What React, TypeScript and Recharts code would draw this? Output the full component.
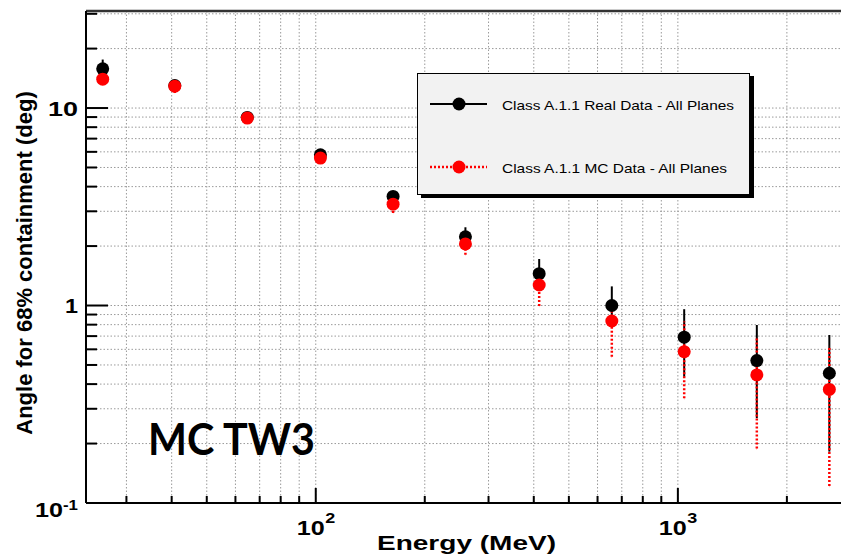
import React from "react";
import {
  CartesianGrid,
  ErrorBar,
  Legend,
  ReferenceLine,
  Scatter,
  ScatterChart,
  XAxis,
  YAxis,
} from "recharts";

// energy bin centres (MeV)
const energies = [25.8, 40.8, 64.7, 103, 163.5, 259, 414, 657, 1041, 1652, 2620];

// Class A.1.1 Real Data - All Planes
const realAngle = [15.8, 13.0, 8.96, 5.8, 3.57, 2.23, 1.45, 1.0, 0.691, 0.526, 0.454];
const realUpper = [17.6, 13.4, 9.2, 5.95, 3.78, 2.49, 1.72, 1.25, 0.958, 0.797, 0.709];
const realLower = [14.5, 12.6, 8.7, 5.65, 3.38, 2.0, 1.25, 0.8, 0.436, 0.269, 0.182];

// Class A.1.1 MC Data - All Planes
const mcAngle = [14.0, 12.9, 8.9, 5.58, 3.26, 2.05, 1.27, 0.835, 0.584, 0.445, 0.376];
const mcUpper = [14.6, 13.3, 9.1, 5.75, 3.45, 2.25, 1.45, 1.05, 0.829, 0.682, 0.619];
const mcLower = [13.4, 11.9, 8.6, 5.4, 2.94, 1.81, 0.995, 0.551, 0.339, 0.189, 0.122];

const xTicks = [30, 40, 50, 60, 70, 80, 90, 100, 200, 300, 400, 500, 600, 700, 800, 900, 1000, 2000];
const yTicks = [
  0.1, 0.2, 0.3, 0.4, 0.5, 0.6, 0.7, 0.8, 0.9, 1, 2, 3, 4, 5, 6, 7, 8, 9, 10, 20, 30,
];
const xMajor = [100, 1000];
const yMajor = [0.1, 1, 10];

const FONT = '"Liberation Sans", Arial, sans-serif';

const build = (ys: number[], hi: number[], lo: number[]) =>
  energies.map((x, i) => ({ x, y: ys[i], err: [ys[i] - lo[i], hi[i] - ys[i]] }));

const realData = build(realAngle, realUpper, realLower);
const mcData = build(mcAngle, mcUpper, mcLower);

function XTick(props: any) {
  const { x, y, payload } = props;
  const v = payload.value;
  const major = xMajor.includes(v);
  return (
    <g>
      <line x1={x} x2={x} y1={y} y2={y - (major ? 15 : 7)} stroke="#000" strokeWidth={2} />
      {major && (
        <text fontFamily={FONT} fontWeight="bold" fill="#000">
          <tspan x={x - 19} y={y + 32} fontSize={20} textLength={28} lengthAdjust="spacingAndGlyphs">
            10
          </tspan>
          <tspan x={x + 9.5} y={y + 20} fontSize={14} textLength={10} lengthAdjust="spacingAndGlyphs">
            {v === 100 ? "2" : "3"}
          </tspan>
        </text>
      )}
    </g>
  );
}

function YTick(props: any) {
  const { x, y, payload } = props;
  const v = payload.value;
  const major = yMajor.includes(v);
  let label = null;
  if (v === 10) {
    label = (
      <text x={x - 38} y={y + 7.5} fontSize={21} textLength={30} lengthAdjust="spacingAndGlyphs" fontFamily={FONT} fontWeight="bold">
        10
      </text>
    );
  } else if (v === 1) {
    label = (
      <text x={x - 21} y={y + 7.5} fontSize={21} textLength={13} lengthAdjust="spacingAndGlyphs" fontFamily={FONT} fontWeight="bold">
        1
      </text>
    );
  } else if (v === 0.1) {
    label = (
      <text fontFamily={FONT} fontWeight="bold">
        <tspan x={x - 51} y={y + 14} fontSize={21} textLength={28} lengthAdjust="spacingAndGlyphs">
          10
        </tspan>
        <tspan x={x - 23} y={y + 7} fontSize={14} textLength={15} lengthAdjust="spacingAndGlyphs">
          -1
        </tspan>
      </text>
    );
  }
  return (
    <g>
      <line x1={x} x2={x + (major ? 22 : 11)} y1={y} y2={y} stroke="#000" strokeWidth={2} />
      {label}
    </g>
  );
}

function LegendBox() {
  return (
    <div
      style={{
        width: 333,
        height: 122,
        background: "#f2f2f2",
        border: "1.5px solid #000",
        boxShadow: "4px 3px 0 #000",
        boxSizing: "border-box",
      }}
    >
      <svg width={330} height={119} style={{ display: "block" }}>
        <line x1={12} x2={69} y1={30} y2={30} stroke="#000" strokeWidth={2} />
        <circle cx={41} cy={30} r={6.5} fill="#000" />
        <text x={84} y={36} fontSize={13} fontFamily={FONT} textLength={232} lengthAdjust="spacingAndGlyphs">
          Class A.1.1 Real Data - All Planes
        </text>
        <line x1={12} x2={69} y1={93} y2={93} stroke="#ff0000" strokeWidth={2.5} strokeDasharray="2 2" />
        <circle cx={41} cy={93} r={6.5} fill="#ff0000" />
        <text x={84} y={98.5} fontSize={13} fontFamily={FONT} textLength={225} lengthAdjust="spacingAndGlyphs">
          Class A.1.1 MC Data - All Planes
        </text>
      </svg>
    </div>
  );
}

const dot = (color: string) => (p: any) => <circle cx={p.cx} cy={p.cy} r={6.5} fill={color} />;

export default function App() {
  return (
    <div
      style={{
        position: "absolute",
        left: 0,
        top: 0,
        width: 841,
        height: 557,
        overflow: "hidden",
        background: "#fff",
        fontFamily: FONT,
      }}
    >
      <ScatterChart width={860} height={557} margin={{ top: 11, right: 12, bottom: 0, left: 0 }}>
        <CartesianGrid stroke="#9a9a9a" strokeDasharray="1.5 2" strokeWidth={1} />
        <XAxis
          dataKey="x"
          type="number"
          scale="log"
          domain={[23.2, 2950]}
          allowDataOverflow
          ticks={xTicks}
          interval={0}
          height={54}
          tick={<XTick />}
          tickLine={false}
          tickSize={0}
          tickMargin={0}
          axisLine={{ stroke: "#000", strokeWidth: 2 }}
        />
        <YAxis
          dataKey="y"
          type="number"
          scale="log"
          domain={[0.1, 31]}
          allowDataOverflow
          ticks={yTicks}
          interval={0}
          width={86}
          tick={<YTick />}
          tickLine={false}
          tickSize={0}
          tickMargin={0}
          axisLine={{ stroke: "#000", strokeWidth: 2 }}
        />
        <ReferenceLine y={31} stroke="#333" strokeWidth={2.5} />
        <Scatter data={realData} shape={dot("#000")} isAnimationActive={false} name="Class A.1.1 Real Data - All Planes">
          <ErrorBar dataKey="err" direction="y" width={0} stroke="#000" strokeWidth={2} isAnimationActive={false} />
        </Scatter>
        <Scatter data={mcData} shape={dot("#ff0000")} isAnimationActive={false} name="Class A.1.1 MC Data - All Planes">
          <ErrorBar
            dataKey="err"
            direction="y"
            width={0}
            stroke="#ff0000"
            strokeWidth={2.5}
            strokeDasharray="2 2"
            isAnimationActive={false}
          />
        </Scatter>
        <Legend
          verticalAlign="middle"
          align="center"
          layout="horizontal"
          content={() => <LegendBox />}
          wrapperStyle={{ left: 417, top: 73, width: 333, height: 122 }}
        />
      </ScatterChart>
      <svg
        width={841}
        height={557}
        style={{ position: "absolute", left: 0, top: 0, pointerEvents: "none" }}
      >
        <text
          x={32}
          y={263}
          transform="rotate(-90, 32, 263)"
          textAnchor="middle"
          fontSize={22}
          fontWeight="bold"
          fontFamily={FONT}
        >
          Angle for 68% containment (deg)
        </text>
        <text x={377} y={550} fontSize={20} fontWeight="bold" fontFamily={FONT} textLength={179} lengthAdjust="spacingAndGlyphs">
          Energy (MeV)
        </text>
        <text
          x={148}
          y={455}
          fontSize={44}
          fontWeight="bold"
          fontFamily='Lato, "Open Sans", sans-serif'
          textLength={167}
          lengthAdjust="spacingAndGlyphs"
        >
          MC TW3
        </text>
      </svg>
    </div>
  );
}
